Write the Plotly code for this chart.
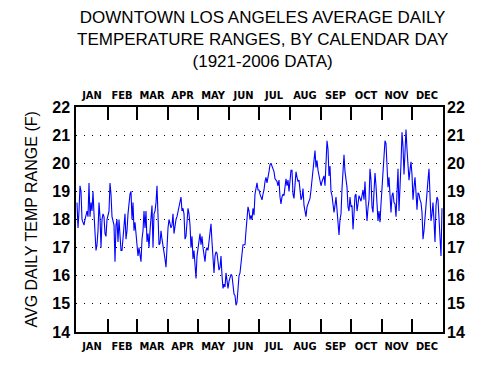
import plotly.graph_objects as go

# ---- data: average daily temperature range (F), by calendar day ----
jan = [18.6, 17.7, 18.3, 19.2, 19.0, 18.0, 17.9, 17.8, 18.0, 18.2, 18.3, 18.1, 19.3, 18.1, 18.6, 18.3,
       19.0, 18.2, 17.5, 16.9, 17.1, 17.6, 18.6, 18.1, 17.0, 18.0, 18.2, 18.1, 17.5, 17.4, 18.0]
feb = [18.2, 18.3, 19.3, 18.9, 18.1, 17.9, 17.8, 16.5, 17.8, 18.0, 17.2, 18.0, 17.4, 16.9, 16.9, 17.3,
       17.7, 18.2, 17.3, 17.6, 18.2, 18.7, 18.9, 19.0, 18.0, 18.6, 17.6, 17.9, 17.5]
mar = [16.8, 16.7, 17.0, 16.7, 16.5, 17.3, 17.6, 18.3, 17.7, 18.3, 17.2, 17.5, 17.0, 17.6, 18.1, 18.5,
       17.0, 18.2, 18.3, 18.6, 19.2, 18.4, 17.1, 17.15, 17.6, 17.3, 17.1, 16.9, 16.6, 16.3, 17.3]
apr = [17.7, 18.0, 17.8, 17.7, 17.8, 18.2, 17.5, 17.8, 18.0, 18.1, 18.3, 18.4, 18.6, 18.8, 18.3,
       18.4, 18.2, 17.3, 17.4, 18.0, 18.4, 18.2, 17.8, 17.0, 17.4, 16.6, 16.9, 16.4, 15.9, 16.7]
may = [17.0, 17.3, 17.5, 17.1, 17.4, 17.0, 16.6, 16.5, 16.9, 17.0, 16.9, 17.3, 17.5, 17.85, 17.2, 16.4,
       16.1, 16.7, 16.85, 16.8, 16.4, 16.2, 16.3, 16.7, 16.0, 15.55, 15.7, 15.6, 16.1, 15.9, 15.55]
jun = [15.8, 16.0, 16.05, 16.0, 15.7, 15.35, 15.3, 14.95, 15.05, 15.6, 16.0, 16.1, 16.4, 16.8, 17.1,
       17.1, 17.1, 17.6, 18.1, 18.45, 18.3, 18.0, 18.15, 18.0, 18.4, 18.15, 18.9, 19.2, 19.3, 19.05]
jul = [19.05, 18.9, 18.8, 18.7, 18.9, 19.05, 19.35, 19.5, 19.3, 19.6, 19.7, 19.95, 20.0, 19.9, 19.8,
       19.7, 19.45, 19.4, 19.35, 19.2, 19.4, 18.8, 18.55, 18.8, 18.9, 18.85, 19.15, 19.45, 19.2, 19.4, 19.0]
aug = [19.6, 19.75, 19.75, 18.9, 18.75, 19.4, 19.7, 19.5, 19.35, 19.4, 19.05, 18.7, 18.8, 19.1, 18.5,
       18.35, 18.1, 18.45, 18.55, 18.7, 18.75, 19.05, 19.4, 19.9, 20.35, 20.45, 19.85, 20.1, 19.75, 19.55, 19.4]
sep = [19.2, 19.35, 19.5, 19.55, 19.2, 20.45, 20.8, 20.5, 19.55, 19.9, 19.0, 18.85, 18.55, 18.25, 18.5,
       18.8, 18.35, 17.9, 17.45, 18.0, 18.2, 19.1, 19.9, 20.3, 19.7, 19.5, 19.15, 18.45, 18.3, 18.8]
oct_ = [18.45, 18.5, 17.65, 18.2, 18.85, 18.9, 18.3, 18.55, 18.85, 18.75, 18.65, 18.85, 19.05, 18.7,
        19.35, 18.55, 17.95, 18.4, 18.7, 19.8, 19.4, 18.45, 18.25, 19.0, 19.65, 19.2, 18.3, 17.95, 18.3, 17.9, 18.55]
nov = [19.15, 20.0, 20.45, 20.8, 20.7, 19.9, 19.15, 19.5, 18.7, 18.25, 18.85, 18.95, 18.6, 18.55, 18.1,
       18.9, 19.8, 18.3, 19.0, 20.0, 21.1, 20.6, 19.6, 20.35, 21.2, 20.5, 19.75, 19.4, 19.75, 20.05]
dec = [19.6, 18.7, 19.15, 19.5, 18.95, 18.35, 18.95, 18.9, 18.7, 18.6, 18.25, 17.3, 17.6, 18.15, 18.6,
       18.95, 19.4, 19.8, 18.7, 17.95, 18.2, 18.6, 17.95, 17.2, 18.5, 18.8, 18.7, 17.95, 17.1, 16.7, 18.4]

months = ["JAN", "FEB", "MAR", "APR", "MAY", "JUN", "JUL", "AUG", "SEP", "OCT", "NOV", "DEC"]
month_data = [jan, feb, mar, apr, may, jun, jul, aug, sep, oct_, nov, dec]
y_ticks = [14, 15, 16, 17, 18, 19, 20, 21, 22]

values = [v for m in month_data for v in m]
days = list(range(1, len(values) + 1))

starts, mids = [], []
d = 1
for m in month_data:
    starts.append(d)
    mids.append(d + (len(m) - 1) / 2)
    d += len(m)
bounds = starts[1:]

fig = go.Figure()
fig.add_trace(go.Scatter(x=days, y=values, mode="lines",
                         line=dict(color="#0000ff", width=1.1), showlegend=False, hoverinfo="skip"))
fig.add_trace(go.Scatter(x=days, y=values, mode="lines", xaxis="x2", yaxis="y2",
                         line=dict(color="rgba(0,0,0,0)", width=0), showlegend=False, hoverinfo="skip"))
fig.add_trace(go.Scatter(x=days, y=values, mode="lines", xaxis="x3", yaxis="y",
                         line=dict(color="rgba(0,0,0,0)", width=0), showlegend=False, hoverinfo="skip"))

month_font = dict(family="Liberation Sans Narrow, Arial Narrow, DejaVu Sans Condensed, sans-serif",
                  size=11, color="black", weight="bold")
num_font = dict(family="Liberation Sans, Arial, sans-serif", size=16, color="black", weight="bold")

xlabels = dict(range=[0, 367], tickmode="array", tickvals=mids, ticktext=months, ticks="",
               tickfont=month_font, showgrid=False, zeroline=False, fixedrange=True)
ycommon = dict(range=[14, 22], tickmode="array", tickvals=y_ticks, ticks="",
               tickfont=num_font, zeroline=False, fixedrange=True)

fig.update_layout(
    width=482, height=359,
    margin=dict(l=68, r=47, t=99, b=35),
    paper_bgcolor="white", plot_bgcolor="white",
    font=dict(family="Liberation Sans, Arial, sans-serif", color="black"),
    xaxis=dict(**xlabels, side="bottom", showline=False, ticklabelstandoff=6),
    xaxis2=dict(**xlabels, side="top", overlaying="x", matches="x", showline=False,
                ticklabelstandoff=5),
    xaxis3=dict(range=[0, 367], overlaying="x", matches="x", side="bottom",
                tickmode="array", tickvals=bounds, showticklabels=False,
                ticks="inside", ticklen=13, tickwidth=1.5, tickcolor="black",
                showline=True, linecolor="black", linewidth=1.5, mirror="allticks",
                showgrid=False, zeroline=False, fixedrange=True),
    yaxis=dict(**ycommon, side="left", showline=True, linecolor="black", linewidth=1.5,
               mirror=True, showgrid=True, gridcolor="black", gridwidth=1,
               griddash="1px,7px", ticklabelstandoff=1),
    yaxis2=dict(**ycommon, side="right", overlaying="y", matches="y", showgrid=False,
                showline=False, ticklabelstandoff=3),
    annotations=[
        dict(text="DOWNTOWN LOS ANGELES AVERAGE DAILY<br>TEMPERATURE RANGES, BY CALENDAR DAY<br>(1921-2006 DATA)",
             xref="paper", yref="paper", x=(262 - 76) / 367, y=1 + (107 - 6) / 225,
             xanchor="center", yanchor="top", showarrow=False, align="center",
             font=dict(family="Liberation Sans, Arial, sans-serif", size=17, color="black")),
        dict(text="AVG DAILY TEMP RANGE (F)", textangle=-90,
             xref="paper", yref="paper", x=(31 - 76) / 367, y=0.5,
             xanchor="center", yanchor="middle", showarrow=False,
             font=dict(family="Liberation Sans, Arial, sans-serif", size=16, color="black")),
    ],
)

fig.write_html("out.html")
